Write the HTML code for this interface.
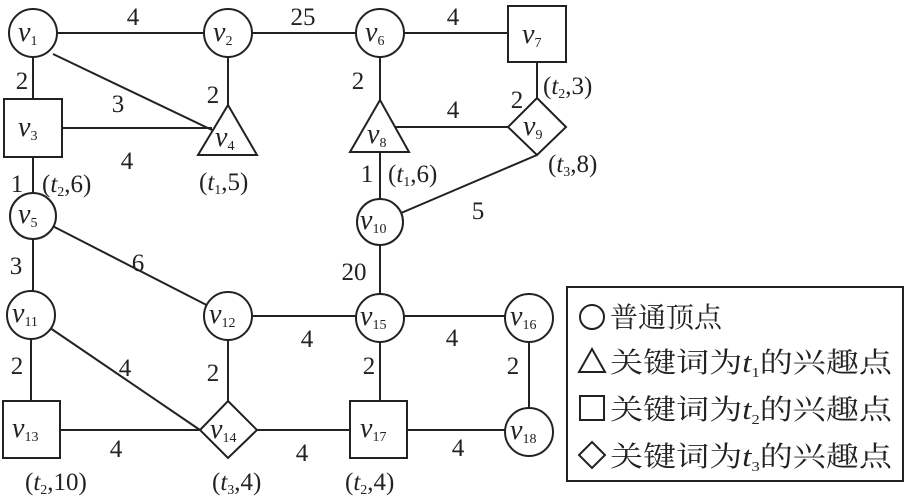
<!DOCTYPE html>
<html><head><meta charset="utf-8"><style>
html,body{margin:0;padding:0;background:#fff;}
svg{display:block;}
text{font-family:"Liberation Serif","Noto Serif CJK SC",serif;fill:#222;}
.v{font-style:italic;font-size:28px;}
.s{font-size:14px;font-style:normal;}
.n{font-size:25px;}
.cj{font-family:"Liberation Serif","Noto Serif CJK SC",serif;font-size:28px;}
</style></head><body>
<svg width="905" height="496" viewBox="0 0 905 496" xmlns="http://www.w3.org/2000/svg">
<g stroke="#222" stroke-width="2" fill="none">
<line x1="33" y1="33" x2="228" y2="33"/>
<line x1="228" y1="33" x2="380" y2="33"/>
<line x1="380" y1="33" x2="537" y2="33"/>
<line x1="33" y1="33" x2="33" y2="128"/>
<line x1="53" y1="54" x2="212" y2="130"/>
<line x1="33" y1="128" x2="212" y2="128"/>
<line x1="228" y1="33" x2="228" y2="105"/>
<line x1="33" y1="157" x2="33" y2="216"/>
<line x1="380" y1="33" x2="380" y2="100"/>
<line x1="395" y1="127" x2="537" y2="127"/>
<line x1="537" y1="62" x2="537" y2="98"/>
<line x1="380" y1="152" x2="380" y2="320"/>
<line x1="537" y1="155" x2="380" y2="222"/>
<line x1="33" y1="216" x2="33" y2="315"/>
<line x1="33" y1="216" x2="228" y2="316"/>
<line x1="228" y1="316" x2="530" y2="316"/>
<line x1="31" y1="315" x2="31" y2="401"/>
<line x1="31" y1="315" x2="200" y2="430"/>
<line x1="228" y1="316" x2="228" y2="401"/>
<line x1="380" y1="320" x2="380" y2="401"/>
<line x1="529" y1="316" x2="529" y2="432"/>
<line x1="60" y1="430" x2="529" y2="430"/>
<g fill="#fff">
<circle cx="33" cy="33" r="24"/>
<circle cx="228" cy="33" r="24"/>
<circle cx="380" cy="33" r="24"/>
<rect x="508" y="6" width="58" height="56"/>
<rect x="4" y="99" width="58" height="58"/>
<polygon points="228,105 257,155 198,155"/>
<polygon points="380,100 409,152 350,152"/>
<polygon points="537,98 566,127 537,155 508,127"/>
<circle cx="33" cy="216" r="23"/>
<circle cx="380" cy="222" r="23"/>
<circle cx="31" cy="315" r="24"/>
<circle cx="228" cy="316" r="24"/>
<circle cx="380" cy="318" r="24"/>
<circle cx="529" cy="318" r="24"/>
<rect x="3" y="401" width="57" height="57"/>
<polygon points="228,401 257,430 228,458 200,430"/>
<rect x="350" y="401" width="57" height="57"/>
<circle cx="529" cy="432" r="24"/>
</g>
<rect x="567" y="287" width="336" height="194"/>
<circle cx="592" cy="317" r="12"/>
<polygon points="592,349 605,372 579,372"/>
<rect x="580" y="396" width="24" height="24"/>
<polygon points="592,442 605,455 592,468 579,455"/>
</g>
<g class="v">
<text x="18" y="41">v<tspan class="s" dy="4">1</tspan></text>
<text x="213" y="41">v<tspan class="s" dy="4">2</tspan></text>
<text x="365" y="41">v<tspan class="s" dy="4">6</tspan></text>
<text x="522" y="43">v<tspan class="s" dy="4">7</tspan></text>
<text x="18" y="136">v<tspan class="s" dy="4">3</tspan></text>
<text x="215" y="146">v<tspan class="s" dy="4">4</tspan></text>
<text x="367" y="143">v<tspan class="s" dy="4">8</tspan></text>
<text x="523" y="135">v<tspan class="s" dy="4">9</tspan></text>
<text x="18" y="223">v<tspan class="s" dy="4">5</tspan></text>
<text x="360" y="229">v<tspan class="s" dy="4">10</tspan></text>
<text x="12" y="322">v<tspan class="s" dy="4">11</tspan></text>
<text x="209" y="323">v<tspan class="s" dy="4">12</tspan></text>
<text x="360" y="325">v<tspan class="s" dy="4">15</tspan></text>
<text x="510" y="325">v<tspan class="s" dy="4">16</tspan></text>
<text x="12" y="437">v<tspan class="s" dy="4">13</tspan></text>
<text x="210" y="438">v<tspan class="s" dy="4">14</tspan></text>
<text x="360" y="437">v<tspan class="s" dy="4">17</tspan></text>
<text x="510" y="439">v<tspan class="s" dy="4">18</tspan></text>
</g>
<g class="n" text-anchor="middle">
<text x="133" y="25">4</text>
<text x="303" y="25">25</text>
<text x="453" y="25">4</text>
<text x="22" y="89">2</text>
<text x="118" y="112">3</text>
<text x="127" y="169">4</text>
<text x="213" y="103">2</text>
<text x="358" y="89">2</text>
<text x="453" y="118">4</text>
<text x="517" y="108">2</text>
<text x="17" y="192">1</text>
<text x="367" y="182">1</text>
<text x="478" y="219">5</text>
<text x="16" y="274">3</text>
<text x="138" y="271">6</text>
<text x="354" y="280">20</text>
<text x="17" y="374">2</text>
<text x="125" y="376">4</text>
<text x="213" y="381">2</text>
<text x="307" y="347">4</text>
<text x="369" y="374">2</text>
<text x="452" y="346">4</text>
<text x="513" y="374">2</text>
<text x="116" y="457">4</text>
<text x="302" y="461">4</text>
<text x="458" y="456">4</text>
</g>
<g class="n">
<text x="199" y="190">(<tspan font-style="italic">t</tspan><tspan class="s" dy="4">1</tspan><tspan dy="-4">,5)</tspan></text>
<text x="42" y="192">(<tspan font-style="italic">t</tspan><tspan class="s" dy="4">2</tspan><tspan dy="-4">,6)</tspan></text>
<text x="388" y="182">(<tspan font-style="italic">t</tspan><tspan class="s" dy="4">1</tspan><tspan dy="-4">,6)</tspan></text>
<text x="543" y="94">(<tspan font-style="italic">t</tspan><tspan class="s" dy="4">2</tspan><tspan dy="-4">,3)</tspan></text>
<text x="548" y="172">(<tspan font-style="italic">t</tspan><tspan class="s" dy="4">3</tspan><tspan dy="-4">,8)</tspan></text>
<text x="25" y="490">(<tspan font-style="italic">t</tspan><tspan class="s" dy="4">2</tspan><tspan dy="-4">,10)</tspan></text>
<text x="212" y="490">(<tspan font-style="italic">t</tspan><tspan class="s" dy="4">3</tspan><tspan dy="-4">,4)</tspan></text>
<text x="345" y="490">(<tspan font-style="italic">t</tspan><tspan class="s" dy="4">2</tspan><tspan dy="-4">,4)</tspan></text>
</g>
<g class="cj">
<text x="610" y="327">普通顶点</text>
<text x="610" y="372" textLength="282" lengthAdjust="spacingAndGlyphs">关键词为<tspan font-style="italic">t</tspan><tspan class="s" dy="5">1</tspan><tspan dy="-5">的兴趣点</tspan></text>
<text x="610" y="419" textLength="282" lengthAdjust="spacingAndGlyphs">关键词为<tspan font-style="italic">t</tspan><tspan class="s" dy="5">2</tspan><tspan dy="-5">的兴趣点</tspan></text>
<text x="610" y="466" textLength="282" lengthAdjust="spacingAndGlyphs">关键词为<tspan font-style="italic">t</tspan><tspan class="s" dy="5">3</tspan><tspan dy="-5">的兴趣点</tspan></text>
</g>
</svg>
</body></html>
